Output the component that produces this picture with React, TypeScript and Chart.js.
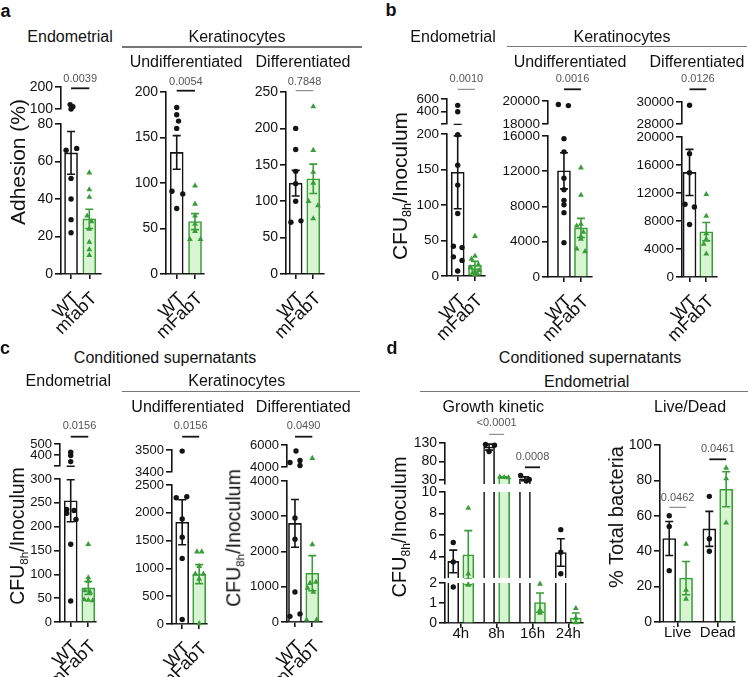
import React, { useEffect, useRef } from 'react';
import { Chart, registerables } from 'chart.js';

Chart.register(...registerables);

const FONT = "'Liberation Sans', Arial, Helvetica, sans-serif";
const INK = '#141414';
const GREEN = '#3a9d3a';
const GREEN_FILL = '#d8f5d1';
const P_GRAY = '#555555';

/* ======================= DATA ======================= */
const strainLabels = ['WT', 'mFabT'];
const strainLabelsEndoA = ['WT', 'mfabT'];
const timeLabels = ['4h', '8h', '16h', '24h'];
const stateLabels = ['Live', 'Dead'];

// ---- panel a : Adhesion (%) ----
const aEndoMean = [64.6, 29.4];
const aEndoSem = [11.4, 5.1];
const aEndoWT = [120, 110, 100, 67, 66, 51, 40, 29, 22];
const aEndoWTx = [-0.05, 0.1, 0, 0.31, -0.27, 0, 0, 0, 0];
const aEndoMF = [54, 45, 41, 31, 28, 24, 17, 13, 10];
const aEndoMFx = [0, 0, 0, -0.12, 0.12, 0, 0, 0, 0];

const aUndMean = [133.6, 57.6];
const aUndSem = [18.5, 8.8];
const aUndWT = [183, 175, 168, 160, 91, 88, 72];
const aUndWTx = [0, 0, 0.1, 0, -0.26, 0.33, 0];
const aUndMF = [97, 77, 64, 55, 47, 38, 38];
const aUndMFx = [0, 0, 0, 0, 0, -0.28, 0.3];

const aDifMean = [124.8, 130.7];
const aDifSem = [17.6, 20.2];
const aDifWT = [200, 171, 141, 124, 100, 73, 71];
const aDifWTx = [0, 0, 0, 0, 0, 0.3, -0.27];
const aDifMF = [230, 170, 140, 125, 100, 94, 76];
const aDifMFx = [0, 0, 0, 0, -0.27, 0.27, 0];
const aPvals = ['0.0039', '0.0054', '0.7848'];

// ---- panel b : CFU8h / Inoculum ----
const bEndoMean = [146, 15];
const bEndoSem = [51.3, 5.6];
const bEndoWT = [500, 400, 199, 156, 128, 88, 42, 40, 27, 22, 7];
const bEndoWTx = [0, 0, 0, 0, 0, 0, -0.25, 0.25, -0.25, 0.25, 0];
const bEndoMF = [56, 28, 24, 16, 12, 8, 6, 4, 3, 2];
const bEndoMFx = [0, 0, -0.2, 0.2, -0.25, 0.25, 0, -0.15, 0.15, 0];

const bUndMean = [12050, 5570];
const bUndSem = [2050, 1080];
const bUndWT = [19700, 19600, 15700, 14200, 11200, 9900, 8700, 8200, 7300, 3900];
const bUndWTx = [-0.33, 0.26, 0, 0, 0, 0, 0, 0, 0, 0];
const bUndMF = [12400, 9300, 6000, 5800, 5100, 4600, 4300, 3200, 2900];
const bUndMFx = [0, 0, 0, -0.25, 0.14, 0, 0, -0.25, 0.24];

const bDifMean = [14940, 6470];
const bDifSem = [3290, 1310];
const bDifWT = [29700, 17600, 14900, 10400, 10000, 7500];
const bDifWTx = [0, 0, 0, -0.27, 0.29, 0];
const bDifMF = [11800, 8700, 6200, 5400, 4700, 3300];
const bDifMFx = [0, 0, 0, 0, -0.15, 0];
const bPvals = ['0.0010', '0.0016', '0.0126'];

// ---- panel c : conditioned supernatants ----
const cEndoMean = [254.4, 71.5];
const cEndoSem = [44, 13.6];
const cEndoWT = [425, 395, 340, 236, 234, 228, 215, 163, 44];
const cEndoWTx = [0, 0, 0, -0.23, 0.19, -0.23, 0.3, 0, 0];
const cEndoMF = [163, 93, 86, 66, 63, 47, 46, 45];
const cEndoMFx = [0, 0, 0, -0.19, 0.1, -0.23, 0, 0.25];

const cUndMean = [1830, 897];
const cUndSem = [404, 170];
const cUndWT = [3495, 2290, 2270, 1890, 1560, 1180, 80];
const cUndWTx = [0, 0.27, -0.35, 0, 0, 0, 0];
const cUndMF = [1300, 1300, 1040, 900, 900, 810, 10];
const cUndMFx = [-0.13, 0.15, 0, -0.23, 0.25, 0, 0];

const cDifMean = [2797, 1384];
const cDifSem = [678, 498];
const cDifWT = [5460, 4600, 4410, 4140, 2950, 2350, 850, 160, 230];
const cDifWTx = [0.06, 0.29, -0.29, 0.29, 0, 0, 0, -0.29, 0.29];
const cDifMF = [4800, 2200, 1130, 1100, 960, 850, 60, 60];
const cDifMFx = [0, 0, 0.21, -0.13, -0.27, 0.06, -0.33, 0.25];
const cPvals = ['0.0156', '0.0156', '0.0490'];

// ---- panel d : growth kinetic ----
const gkWTMean = [3.54, 119, 34, 4.37];
const gkWTSem = [1.05, 8, 5, 1.28];
const gkMFMean = [4.16, 38, 1.02, 0.25];
const gkMFSem = [2.25, 1, 0.48, 0.25];
const gkWT4h = [5.3, 3.5, 1.8];
const gkWT8h = [126, 124, 107];
const gkWT16h = [43, 32, 28];
const gkWT24h = [6.5, 4.4, 2.4];
const gkMF4h = [8.5, 2.4, 1.9];
const gkMF8h = [39, 38, 37];
const gkMF16h = [1.95, 0.65, 0.5];
const gkMF24h = [0.73, 0.25, 0.02];
const gkWTJit = [[0, 0, 0], [-0.1, 0.15, 0], [-0.12, 0.12, 0.04], [0, 0, 0]];
const gkMFJit = [[0, 0, 0], [-0.12, 0, 0.12], [0, 0, 0], [0, 0, 0]];

// ---- panel d : live / dead ----
const ldWTMean = [47.2, 52.6];
const ldWTSem = [9.6, 9.9];
const ldMFMean = [24.8, 75];
const ldMFSem = [9.4, 9.9];
const ldWTLive = [60, 54, 29];
const ldWTDead = [71, 47, 40];
const ldMFLive = [44, 18, 13];
const ldMFDead = [87, 81, 56];
const dPvals = ['<0.0001', '0.0008', '0.0462', '0.0461'];

/* ======================= BUILDERS ======================= */
type Seg = { min: number; max: number; ticks: number[]; labels?: string[]; top: number; bottom: number };
type Series = { kind: 'wt' | 'mf'; x: number; pts: number[]; jit: number[]; mean: number; sem: number };
type Sig = { x1: number; x2: number; text: string; textY: number; lineY: number; thick: boolean };

function pair(wt: number[], wtJ: number[], mf: number[], mfJ: number[], mean: number[], sem: number[]): Series[] {
  return [
    { kind: 'wt', x: 1, pts: wt, jit: wtJ, mean: mean[0], sem: sem[0] },
    { kind: 'mf', x: 2, pts: mf, jit: mfJ, mean: mean[1], sem: sem[1] },
  ];
}

const GK_OFF = 0.21;
const gkWTPts = [gkWT4h, gkWT8h, gkWT16h, gkWT24h];
const gkMFPts = [gkMF4h, gkMF8h, gkMF16h, gkMF24h];
const gkSeries: Series[] = timeLabels.flatMap((_, i) => [
  { kind: 'wt' as const, x: i + 1 - GK_OFF, pts: gkWTPts[i], jit: gkWTJit[i], mean: gkWTMean[i], sem: gkWTSem[i] },
  { kind: 'mf' as const, x: i + 1 + GK_OFF, pts: gkMFPts[i], jit: gkMFJit[i], mean: gkMFMean[i], sem: gkMFSem[i] },
]);
const ldWTPts = [ldWTLive, ldWTDead];
const ldMFPts = [ldMFLive, ldMFDead];
const ldSeries: Series[] = stateLabels.flatMap((_, i) => [
  { kind: 'wt' as const, x: i + 1 - GK_OFF, pts: ldWTPts[i], jit: [0, 0, 0], mean: ldWTMean[i], sem: ldWTSem[i] },
  { kind: 'mf' as const, x: i + 1 + GK_OFF, pts: ldMFPts[i], jit: [0, 0, 0], mean: ldMFMean[i], sem: ldMFSem[i] },
]);

const sigPair = (text: string, textY: number, lineY: number, thick: boolean): Sig => ({ x1: 1, x2: 2, text, textY, lineY, thick });

const ROT = { xFont: 18, xRot: 45, xH: 72, xPad: 9, xOff: 5 };

const plots: any[] = [
  {
    id: 'aEndo', axisX: 61, xEnd: 101, xMin: 0.45, xMax: 2.64, xTicks: [1, 2], xLabels: strainLabelsEndoA,
    ...ROT, yFont: 14, barW: 13,
    segs: [
      { min: 100, max: 200, ticks: [100, 200], top: 87.3, bottom: 109.3 },
      { min: 0, max: 80, ticks: [0, 20, 40, 60, 80], top: 124, bottom: 274.3 },
    ],
    series: pair(aEndoWT, aEndoWTx, aEndoMF, aEndoMFx, aEndoMean, aEndoSem),
    sigs: [sigPair(aPvals[0], 79, 88.3, true)],
  },
  {
    id: 'aUnd', axisX: 166, xEnd: 204, xMin: 0.415, xMax: 2.49, xTicks: [1, 2], xLabels: strainLabels,
    ...ROT, yFont: 14, barW: 13,
    segs: [{ min: 0, max: 200, ticks: [0, 50, 100, 150, 200], top: 91.7, bottom: 274.3 }],
    series: pair(aUndWT, aUndWTx, aUndMF, aUndMFx, aUndMean, aUndSem),
    sigs: [sigPair(aPvals[1], 81.5, 90.7, true)],
  },
  {
    id: 'aDif', axisX: 286, xEnd: 324, xMin: 0.45, xMax: 2.61, xTicks: [1, 2], xLabels: strainLabels,
    ...ROT, yFont: 14, barW: 13,
    segs: [{ min: 0, max: 250, ticks: [0, 50, 100, 150, 200, 250], top: 92.3, bottom: 274 }],
    series: pair(aDifWT, aDifWTx, aDifMF, aDifMFx, aDifMean, aDifSem),
    sigs: [sigPair(aPvals[2], 81.5, 90.7, false)],
  },
  {
    id: 'bEndo', axisX: 447, xEnd: 485, xMin: 0.38, xMax: 2.58, xTicks: [1, 2], xLabels: strainLabels,
    ...ROT, yFont: 13.5, barW: 13,
    segs: [
      { min: 206, max: 600, ticks: [206, 400, 600], labels: ['', '400', '600'], top: 99, bottom: 124 },
      { min: 0, max: 200, ticks: [0, 50, 100, 150, 200], top: 134, bottom: 275.7 },
    ],
    series: pair(bEndoWT, bEndoWTx, bEndoMF, bEndoMFx, bEndoMean, bEndoSem),
    sigs: [sigPair(bPvals[0], 79, 89.3, false)],
  },
  {
    id: 'bUnd', axisX: 548, xEnd: 592, xMin: 0.06, xMax: 2.65, xTicks: [1, 2], xLabels: strainLabels,
    ...ROT, yFont: 13.5, barW: 13,
    segs: [
      { min: 18000, max: 20000, ticks: [18000, 20000], top: 100.7, bottom: 124.3 },
      { min: 0, max: 16000, ticks: [0, 4000, 8000, 12000, 16000], top: 136, bottom: 276.7 },
    ],
    series: pair(bUndWT, bUndWTx, bUndMF, bUndMFx, bUndMean, bUndSem),
    sigs: [sigPair(bPvals[1], 79, 89.3, true)],
  },
  {
    id: 'bDif', axisX: 682, xEnd: 717, xMin: 0.55, xMax: 2.64, xTicks: [1, 2], xLabels: strainLabels,
    ...ROT, yFont: 13.5, barW: 13,
    segs: [
      { min: 28000, max: 30000, ticks: [28000, 30000], top: 102.3, bottom: 124 },
      { min: 0, max: 20000, ticks: [0, 4000, 8000, 12000, 16000, 20000], top: 137.3, bottom: 277.3 },
    ],
    series: pair(bDifWT, bDifWTx, bDifMF, bDifMFx, bDifMean, bDifSem),
    sigs: [sigPair(bPvals[2], 79, 89.3, true)],
  },
  {
    id: 'cEndo', axisX: 60, xEnd: 96, xMin: 0.39, xMax: 2.44, xTicks: [1, 2], xLabels: strainLabels,
    ...ROT, yFont: 13, barW: 13,
    segs: [
      { min: 300, max: 500, ticks: [300, 400, 500], labels: ['', '400', '500'], top: 444, bottom: 466 },
      { min: 0, max: 300, ticks: [0, 50, 100, 150, 200, 250, 300], top: 479, bottom: 621.7 },
    ],
    series: pair(cEndoWT, cEndoWTx, cEndoMF, cEndoMFx, cEndoMean, cEndoSem),
    sigs: [sigPair(cPvals[0], 426, 436.7, true)],
  },
  {
    id: 'cUnd', axisX: 172, xEnd: 207, xMin: 0.4, xMax: 2.46, xTicks: [1, 2], xLabels: strainLabels,
    ...ROT, yFont: 13, barW: 13,
    segs: [
      { min: 3400, max: 3500, ticks: [3400, 3500], top: 450, bottom: 471.7 },
      { min: 0, max: 2500, ticks: [0, 500, 1000, 1500, 2000, 2500], top: 485, bottom: 624.3 },
    ],
    series: pair(cUndWT, cUndWTx, cUndMF, cUndMFx, cUndMean, cUndSem),
    sigs: [sigPair(cPvals[1], 426, 436.7, true)],
  },
  {
    id: 'cDif', axisX: 287, xEnd: 322, xMin: 0.54, xMax: 2.56, xTicks: [1, 2], xLabels: strainLabels,
    ...ROT, yFont: 13, barW: 13,
    segs: [
      { min: 4000, max: 6000, ticks: [4000, 6000], top: 445, bottom: 467.3 },
      { min: 0, max: 4000, ticks: [0, 1000, 2000, 3000, 4000], top: 480.7, bottom: 622.3 },
    ],
    series: pair(cDifWT, cDifWTx, cDifMF, cDifMFx, cDifMean, cDifSem),
    sigs: [sigPair(cPvals[2], 426, 436.7, true)],
  },
  {
    id: 'dGK', axisX: 445, xEnd: 583, xMin: 0.56, xMax: 4.41, xTicks: [1, 2, 3, 4], xLabels: timeLabels,
    xFont: 15, xRot: 0, xH: 26, xPad: -3, xOff: 0, yFont: 14, barW: 11,
    segs: [
      { min: 20, max: 130, ticks: [30, 80, 130], top: 442.7, bottom: 483.7 },
      { min: 2, max: 10, ticks: [4, 6, 8, 10], top: 491.7, bottom: 578.3 },
      { min: 0, max: 2, ticks: [0, 1, 2], top: 583.3, bottom: 622.7 },
    ],
    series: gkSeries,
    sigs: [
      { x1: 2 - GK_OFF, x2: 2 + GK_OFF, text: dPvals[0], textY: 423.3, lineY: 434.3, thick: false },
      { x1: 3 - GK_OFF, x2: 3 + GK_OFF, text: dPvals[1], textY: 456.7, lineY: 467.3, thick: true },
    ],
  },
  {
    id: 'dLD', axisX: 660, xEnd: 735, xMin: 0.56, xMax: 2.43, xTicks: [1, 2], xLabels: stateLabels,
    xFont: 15, xRot: 0, xH: 26, xPad: -3, xOff: 0, yFont: 14, barW: 13,
    segs: [{ min: 0, max: 100, ticks: [0, 20, 40, 60, 80, 100], top: 445, bottom: 622.3 }],
    series: ldSeries,
    sigs: [
      { x1: 1 - GK_OFF, x2: 1 + GK_OFF, text: dPvals[2], textY: 498.3, lineY: 507.3, thick: false },
      { x1: 2 - GK_OFF, x2: 2 + GK_OFF, text: dPvals[3], textY: 449.3, lineY: 459.3, thick: true },
    ],
  },
];

/* ======================= CHART SEGMENT ======================= */
const AW = 56;
const PR = 12;
const PB = 6;

function buildConfig(plot: any, seg: Seg, isBottom: boolean, sigs: Sig[], PT: number, canvasTop: number) {
  const span = seg.max - seg.min;
  const tol = span * 0.006;
  const pxPerUnit = (plot.xEnd - plot.axisX) / (plot.xMax - plot.xMin);
  const cap = 4 / pxPerUnit;
  const datasets: any[] = [];
  (['wt', 'mf'] as const).forEach((kind) => {
    const ser: Series[] = plot.series.filter((s: Series) => s.kind === kind);
    const isWT = kind === 'wt';
    const edge = isWT ? INK : GREEN;
    datasets.push({
      type: 'bar', order: 3,
      data: ser.filter((s) => s.mean > seg.min).map((s) => ({ x: s.x, y: s.mean })),
      backgroundColor: isWT ? '#ffffff' : GREEN_FILL,
      borderColor: edge, borderWidth: 1.6, borderSkipped: 'start',
      grouped: false, barThickness: plot.barW,
      clip: { left: 20, right: 20, top: 0, bottom: 0 },
    });
    const err: any[] = [];
    ser.forEach((s) => {
      const hi = s.mean + s.sem;
      const lo = Math.max(s.mean - s.sem, 0);
      err.push(
        { x: s.x - cap, y: hi }, { x: s.x + cap, y: hi }, { x: s.x, y: null },
        { x: s.x, y: hi }, { x: s.x, y: lo }, { x: s.x, y: null },
        { x: s.x - cap, y: lo }, { x: s.x + cap, y: lo }, { x: s.x, y: null },
      );
    });
    datasets.push({
      type: 'line', order: 2, data: err, borderColor: edge, borderWidth: 1.6,
      pointRadius: 0, pointHoverRadius: 0, spanGaps: false, fill: false, tension: 0,
      clip: { left: 20, right: 20, top: 1, bottom: 1 },
    });
    const pts: any[] = [];
    ser.forEach((s) => s.pts.forEach((v, i) => {
      if (v >= seg.min - tol && v <= seg.max + tol) pts.push({ x: s.x + (s.jit[i] || 0), y: v });
    }));
    datasets.push({
      type: 'line', order: 1, data: pts, showLine: false,
      pointStyle: isWT ? 'circle' : 'triangle', pointRadius: isWT ? 2.7 : 3.4,
      pointBackgroundColor: edge, pointBorderColor: edge, pointBorderWidth: 0,
      pointHoverRadius: 0, clip: false,
    });
  });

  const sigPlugin = {
    id: 'sigs',
    afterDatasetsDraw(chart: any) {
      const ctx = chart.ctx;
      const xs = chart.scales.x;
      sigs.forEach((s) => {
        const x1 = xs.getPixelForValue(s.x1);
        const x2 = xs.getPixelForValue(s.x2);
        const ly = s.lineY - canvasTop;
        const ty = s.textY - canvasTop;
        ctx.save();
        ctx.strokeStyle = s.thick ? INK : '#777777';
        ctx.lineWidth = s.thick ? 1.8 : 1;
        ctx.beginPath();
        ctx.moveTo(x1, ly);
        ctx.lineTo(x2, ly);
        ctx.stroke();
        ctx.fillStyle = P_GRAY;
        ctx.font = `11px ${FONT}`;
        ctx.textAlign = 'center';
        ctx.textBaseline = 'middle';
        ctx.fillText(s.text, (x1 + x2) / 2, ty);
        ctx.restore();
      });
    },
  };

  return {
    type: 'bar',
    data: { datasets },
    options: {
      responsive: false,
      animation: false,
      events: [],
      layout: { padding: { top: PT, right: PR, bottom: isBottom ? 0 : PB, left: 0 } },
      plugins: { legend: { display: false }, tooltip: { enabled: false } },
      scales: {
        x: {
          type: 'linear', min: plot.xMin, max: plot.xMax, offset: false,
          afterBuildTicks: (s: any) => { s.ticks = plot.xTicks.map((v: number) => ({ value: v })); },
          afterFit: (s: any) => { s.height = isBottom ? plot.xH : 0; s.paddingLeft = 0; s.paddingRight = 0; },
          grid: { display: isBottom, drawOnChartArea: false, drawTicks: true, tickLength: 5, color: INK, lineWidth: 1.6, offset: false },
          border: { display: isBottom, color: INK, width: 1.6 },
          ticks: {
            display: isBottom, autoSkip: false, minRotation: plot.xRot, maxRotation: plot.xRot,
            padding: plot.xPad, labelOffset: plot.xOff, color: '#111111',
            font: { family: FONT, size: plot.xFont },
            callback: (v: number) => {
              const i = plot.xTicks.indexOf(v);
              return i >= 0 ? plot.xLabels[i] : '';
            },
          },
        },
        y: {
          type: 'linear', min: seg.min, max: seg.max, beginAtZero: false,
          afterBuildTicks: (s: any) => { s.ticks = seg.ticks.map((v) => ({ value: v })); },
          afterFit: (s: any) => { s.width = AW; s.paddingTop = 0; s.paddingBottom = 0; },
          grid: { display: true, drawOnChartArea: false, drawTicks: true, tickLength: 6, color: INK, lineWidth: 1.6 },
          border: { display: true, color: INK, width: 1.6 },
          ticks: {
            autoSkip: false, padding: 2, color: '#111111',
            font: { family: FONT, size: plot.yFont },
            callback: (v: number, i: number) => (seg.labels ? seg.labels[i] : String(v)),
          },
        },
      },
    },
    plugins: [sigPlugin],
  };
}

function SegmentChart({ plot, seg, isBottom, sigs }: any) {
  const ref = useRef<HTMLCanvasElement | null>(null);
  const minTextY = sigs.length ? Math.min(...sigs.map((s: Sig) => s.textY)) : Infinity;
  const PT = Math.max(8, Math.ceil(seg.top - minTextY + 10));
  const areaTop = Math.round(seg.top);
  const areaH = Math.round(seg.bottom) - areaTop;
  const top = areaTop - PT;
  const left = plot.axisX - AW;
  const width = AW + (plot.xEnd - plot.axisX) + PR;
  const height = PT + areaH + (isBottom ? plot.xH : PB);
  useEffect(() => {
    if (!ref.current) return;
    const chart = new Chart(ref.current, buildConfig(plot, seg, isBottom, sigs, PT, top) as any);
    return () => chart.destroy();
  }, []);
  return (
    <canvas ref={ref} width={width} height={height}
      style={{ position: 'absolute', left, top, width, height }} />
  );
}

function PlotView({ plot }: any) {
  const bottoms = plot.segs.map((s: Seg) => s.bottom);
  const tops = plot.segs.map((s: Seg) => s.top);
  const maxB = Math.max(...bottoms);
  const minT = Math.min(...tops);
  return (
    <>
      {plot.segs.map((seg: Seg, i: number) => (
        <SegmentChart key={plot.id + i} plot={plot} seg={seg}
          isBottom={seg.bottom === maxB} sigs={seg.top === minT ? plot.sigs : []} />
      ))}
    </>
  );
}

/* ======================= TEXT OVERLAYS ======================= */
function Txt({ x, y, size = 16, bold = false, children }: any) {
  return (
    <div style={{
      position: 'absolute', left: x, top: y, transform: 'translate(-50%, -50%)',
      fontSize: size, fontWeight: bold ? 700 : 400, whiteSpace: 'nowrap', lineHeight: 1, color: '#111',
    }}>{children}</div>
  );
}

function VTxt({ x, y, size = 20, children }: any) {
  return (
    <div style={{
      position: 'absolute', left: x, top: y, transform: 'translate(-50%, -50%) rotate(-90deg)',
      fontSize: size, whiteSpace: 'nowrap', lineHeight: 1, color: '#111',
    }}>{children}</div>
  );
}

function HLine({ x1, x2, y }: any) {
  return <div style={{ position: 'absolute', left: x1, top: y - 0.6, width: x2 - x1, height: 1.2, background: '#777' }} />;
}

function CFU() {
  return (
    <span>CFU<span style={{ fontSize: '0.6em', position: 'relative', top: '0.3em' }}>8h</span>/Inoculum</span>
  );
}

export default function App() {
  return (
    <div style={{
      position: 'absolute', left: 0, top: 0, width: 750, height: 677, background: '#fff',
      fontFamily: FONT, overflow: 'hidden',
    }}>
      {plots.map((p) => <PlotView key={p.id} plot={p} />)}

      {/* panel a */}
      <Txt x={5.5} y={11} size={18} bold>a</Txt>
      <Txt x={70} y={37}>Endometrial</Txt>
      <Txt x={237} y={37}>Keratinocytes</Txt>
      <HLine x1={122} x2={362} y={47} />
      <Txt x={186} y={62}>Undifferentiated</Txt>
      <Txt x={303} y={62}>Differentiated</Txt>
      <VTxt x={16.5} y={162} size={21}>Adhesion (%)</VTxt>

      {/* panel b */}
      <Txt x={391} y={10} size={18} bold>b</Txt>
      <Txt x={453} y={37}>Endometrial</Txt>
      <Txt x={622} y={37}>Keratinocytes</Txt>
      <HLine x1={507} x2={747} y={46.7} />
      <Txt x={570} y={62}>Undifferentiated</Txt>
      <Txt x={697} y={62}>Differentiated</Txt>
      <VTxt x={398.5} y={186} size={21}><CFU /></VTxt>

      {/* panel c */}
      <Txt x={5} y={347.5} size={18} bold>c</Txt>
      <Txt x={165} y={358.3}>Conditioned supernatants</Txt>
      <Txt x={68.3} y={381}>Endometrial</Txt>
      <Txt x={236.7} y={381}>Keratinocytes</Txt>
      <HLine x1={122} x2={360} y={391.7} />
      <Txt x={187.7} y={406.7}>Undifferentiated</Txt>
      <Txt x={303.3} y={406.7}>Differentiated</Txt>
      <VTxt x={17.5} y={536} size={19.5}><CFU /></VTxt>
      <VTxt x={234} y={538} size={19.5}><CFU /></VTxt>

      {/* panel d */}
      <Txt x={392} y={348} size={18} bold>d</Txt>
      <Txt x={590} y={358.3}>Conditioned supernatants</Txt>
      <Txt x={586.7} y={381.7}>Endometrial</Txt>
      <HLine x1={420} x2={748} y={391.7} />
      <Txt x={493.3} y={406.7}>Growth kinetic</Txt>
      <Txt x={690} y={406.7}>Live/Dead</Txt>
      <VTxt x={399} y={527} size={20}><CFU /></VTxt>
      <VTxt x={616} y={517} size={20}>% Total bacteria</VTxt>
    </div>
  );
}
